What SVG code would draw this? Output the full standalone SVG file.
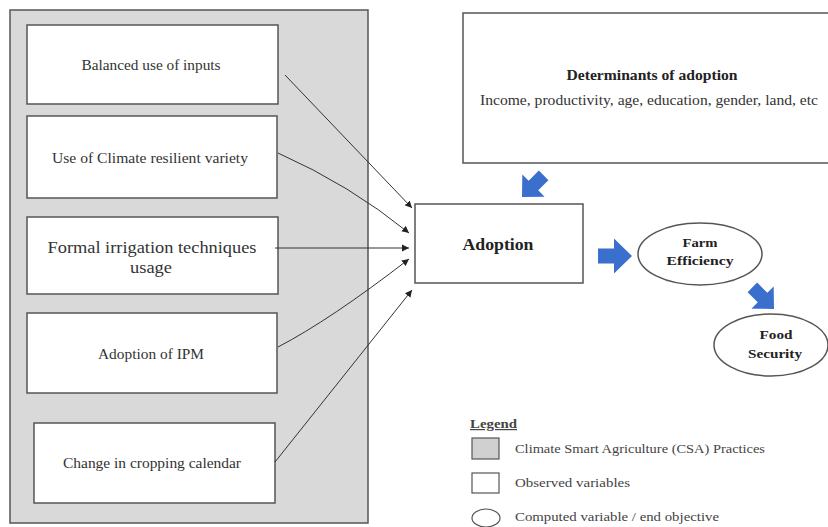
<svg xmlns="http://www.w3.org/2000/svg" width="828" height="527" viewBox="0 0 828 527">
<style>
.box{fill:#fff;stroke:#555;stroke-width:1.5}
.panel{fill:#d9d9d9;stroke:#555;stroke-width:1.5}
.t{font-family:"Liberation Serif","Times New Roman",serif;fill:#333;text-anchor:middle}
.b{font-weight:bold;fill:#222}
.lg{font-family:"Liberation Serif","Times New Roman",serif;fill:#444;font-size:12px}
.con{fill:none;stroke:#333;stroke-width:1}
.blue{fill:#3b6fce}
</style>
<defs>
<marker id="ah" markerWidth="8" markerHeight="8" refX="7" refY="4" orient="auto" markerUnits="userSpaceOnUse">
<path d="M0,0.5 L7,4 L0,7.5 Z" fill="#222"/>
</marker>
<path id="barrow" d="M-34,-7.5 L-18,-7.5 L-18,-17.5 L0,0 L-18,17.5 L-18,7.5 L-34,7.5 Z"/>
</defs>
<rect x="0" y="0" width="828" height="527" fill="#fff"/>
<g id="csa-panel">
<rect class="panel" x="10" y="10" width="358" height="513"/>
</g>
<g id="n-balanced">
<rect class="box" x="27" y="25" width="251" height="79"/>
<text class="t" x="151" y="70" font-size="14" textLength="139" lengthAdjust="spacingAndGlyphs">Balanced use of inputs</text>
</g>
<g id="n-variety">
<rect class="box" x="27" y="116" width="250" height="82"/>
<text class="t" x="150" y="163" font-size="14" textLength="196" lengthAdjust="spacingAndGlyphs">Use of Climate resilient variety</text>
</g>
<g id="n-irrigation">
<rect class="box" x="27" y="217" width="251" height="77"/>
<text class="t" x="152" y="253" font-size="17" textLength="209" lengthAdjust="spacingAndGlyphs">Formal irrigation techniques</text>
<text class="t" x="151" y="273" font-size="17" textLength="42" lengthAdjust="spacingAndGlyphs">usage</text>
</g>
<g id="n-ipm">
<rect class="box" x="27" y="313" width="250" height="80"/>
<text class="t" x="151" y="359" font-size="14" textLength="106" lengthAdjust="spacingAndGlyphs">Adoption of IPM</text>
</g>
<g id="n-calendar">
<rect class="box" x="34" y="423" width="241" height="80"/>
<text class="t" x="152" y="468" font-size="14" textLength="178" lengthAdjust="spacingAndGlyphs">Change in cropping calendar</text>
</g>
<g id="n-determinants">
<rect class="box" x="463" y="13" width="370" height="150"/>
<text class="t b" x="652" y="80" font-size="14" textLength="171" lengthAdjust="spacingAndGlyphs">Determinants of adoption</text>
<text class="t" x="649" y="105" font-size="14" textLength="338" lengthAdjust="spacingAndGlyphs">Income, productivity, age, education, gender, land, etc</text>
</g>
<g id="n-adoption">
<rect class="box" x="415" y="204" width="168" height="79"/>
<text class="t b" x="498" y="250" font-size="16" textLength="71" lengthAdjust="spacingAndGlyphs">Adoption</text>
</g>
<g id="n-farm">
<ellipse class="box" cx="700" cy="254" rx="62" ry="31"/>
<text class="t b" x="700" y="247" font-size="13" textLength="35" lengthAdjust="spacingAndGlyphs">Farm</text>
<text class="t b" x="700" y="265" font-size="13" textLength="67" lengthAdjust="spacingAndGlyphs">Efficiency</text>
</g>
<g id="n-food">
<ellipse class="box" cx="771" cy="345" rx="57" ry="31"/>
<text class="t b" x="776" y="339" font-size="13" textLength="33" lengthAdjust="spacingAndGlyphs">Food</text>
<text class="t b" x="775" y="358" font-size="13" textLength="54" lengthAdjust="spacingAndGlyphs">Security</text>
</g>
<g id="connectors">
<path class="con" d="M285,75 L412,208" marker-end="url(#ah)"/>
<path class="con" d="M278,153 Q350,185 409,233" marker-end="url(#ah)"/>
<path class="con" d="M275,248 L409,248" marker-end="url(#ah)"/>
<path class="con" d="M278,347 Q330,320 409,259" marker-end="url(#ah)"/>
<path class="con" d="M275,462 L412,290" marker-end="url(#ah)"/>
<use href="#barrow" class="blue" transform="translate(522,197) rotate(135) scale(0.9)"/>
<use href="#barrow" class="blue" transform="translate(632,256)"/>
<use href="#barrow" class="blue" transform="translate(774,309) rotate(45) scale(0.9)"/>
</g>
<g id="legend">
<text class="lg" x="470" y="428" font-weight="bold" text-decoration="underline" fill="#222" textLength="47" lengthAdjust="spacingAndGlyphs">Legend</text>
<rect x="472" y="438" width="27" height="21" fill="#d0d0d0" stroke="#555" stroke-width="1.2"/>
<text class="lg" x="515" y="453" textLength="250" lengthAdjust="spacingAndGlyphs">Climate Smart Agriculture (CSA) Practices</text>
<rect x="472" y="473" width="27" height="20" fill="#fff" stroke="#555" stroke-width="1.2"/>
<text class="lg" x="515" y="487" textLength="115" lengthAdjust="spacingAndGlyphs">Observed variables</text>
<ellipse cx="486" cy="518" rx="14" ry="9" fill="#fff" stroke="#555" stroke-width="1.2"/>
<text class="lg" x="515" y="521" textLength="204" lengthAdjust="spacingAndGlyphs">Computed variable / end objective</text>
</g>
</svg>
